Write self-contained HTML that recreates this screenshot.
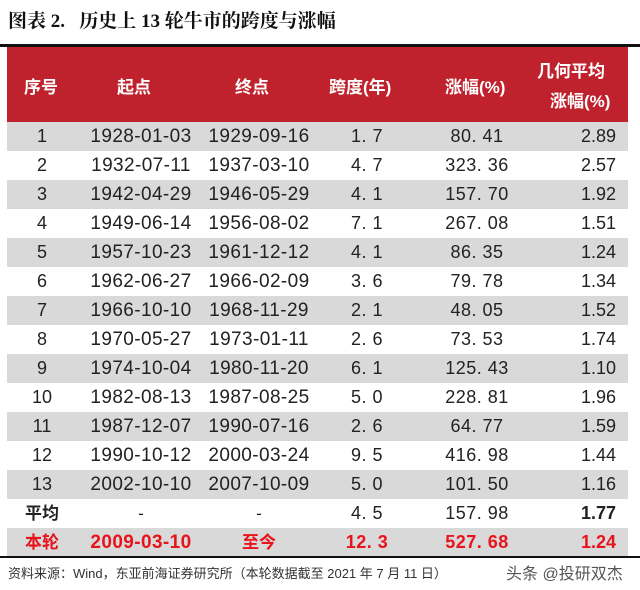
<!DOCTYPE html>
<html><head><meta charset="utf-8"><style>
body{margin:0;width:640px;height:590px;background:#fff;position:relative;overflow:hidden;font-family:"Liberation Sans","Noto Sans CJK SC",sans-serif;}
.t{position:absolute;left:8px;top:6px;font-size:19px;font-weight:bold;color:#111;font-family:"Liberation Serif","Noto Serif CJK SC",serif;}
.line{position:absolute;left:0;width:640px;background:#111;}
.hd{position:absolute;left:7px;top:47px;width:621px;height:75px;background:#c0222d;}
.r{position:absolute;left:7px;width:621px;height:29px;}
.c{position:absolute;top:0;line-height:29px;font-size:17px;color:#222;white-space:nowrap;}
.h{position:absolute;color:#fff;font-weight:bold;font-size:17px;white-space:nowrap;}
.foot{position:absolute;left:8px;top:563px;font-size:13px;color:#333;}
.wm{position:absolute;left:506px;top:560px;font-size:16px;color:#555;}
</style></head><body>
<div class="t">图表 2.&nbsp;&nbsp; 历史上 13 轮牛市的跨度与涨幅</div>
<div class="line" style="top:44px;height:3px"></div>
<div class="hd">
<div class="h" style="left:17px;top:26px">序号</div>
<div class="h" style="left:110px;top:26px">起点</div>
<div class="h" style="left:228px;top:26px">终点</div>
<div class="h" style="left:322px;top:26px">跨度(年)</div>
<div class="h" style="left:438px;top:26px">涨幅(%)</div>
<div class="h" style="left:530px;top:10px">几何平均</div>
<div class="h" style="left:543px;top:40px">涨幅(%)</div>
</div>
<div id="rows"></div>
<div class="line" style="top:556px;height:2px"></div>
<div class="foot">资料来源：Wind，东亚前海证券研究所（本轮数据截至 2021 年 7 月 11 日）</div>
<div class="wm">头条 @投研双杰</div>
<script>
var d=[["1","1928-01-03","1929-09-16","1.7","80.41","2.89"],["2","1932-07-11","1937-03-10","4.7","323.36","2.57"],["3","1942-04-29","1946-05-29","4.1","157.70","1.92"],["4","1949-06-14","1956-08-02","7.1","267.08","1.51"],["5","1957-10-23","1961-12-12","4.1","86.35","1.24"],["6","1962-06-27","1966-02-09","3.6","79.78","1.34"],["7","1966-10-10","1968-11-29","2.1","48.05","1.52"],["8","1970-05-27","1973-01-11","2.6","73.53","1.74"],["9","1974-10-04","1980-11-20","6.1","125.43","1.10"],["10","1982-08-13","1987-08-25","5.0","228.81","1.96"],["11","1987-12-07","1990-07-16","2.6","64.77","1.59"],["12","1990-10-12","2000-03-24","9.5","416.98","1.44"],["13","2002-10-10","2007-10-09","5.0","101.50","1.16"],["平均","-","-","4.5","157.98","1.77"],["本轮","2009-03-10","至今","12.3","527.68","1.24"]];
var h="";
d.forEach(function(r,i){
var top=121.5+i*29,bg=(i%2==0)?"#d9d9d9":"#fff";
var col=i==14?"#e8141c":"#222";var fw=i==14?"bold":"normal";
var cx=[35,134,252,360,470];
h+='<div class="r" style="top:'+top+'px;background:'+bg+'">';
for(var k=0;k<5;k++){var t=r[k];if(k>=3&&k<5)t=t.replace(".",". ");
var b=(i>=13&&k==0)?"bold":fw;
var st='';
if(k==1||k==2){st=(i<13||t.length>3)?'font-size:19px;letter-spacing:0.4px;':'';}
else if(k>=3){st='font-size:18px;letter-spacing:0.5px;';}
else st=(i<13)?'font-size:18px;':'';
h+='<div class="c" style="left:'+(cx[k]-100)+'px;width:200px;text-align:center;color:'+col+';font-weight:'+b+';'+st+'">'+t+'</div>';}
h+='<div class="c" style="right:12px;font-size:18px;text-align:right;color:'+col+';font-weight:'+(i>=13?'bold':'normal')+'">'+r[5]+'</div></div>';
});
document.getElementById("rows").innerHTML=h;
</script>
</body></html>
